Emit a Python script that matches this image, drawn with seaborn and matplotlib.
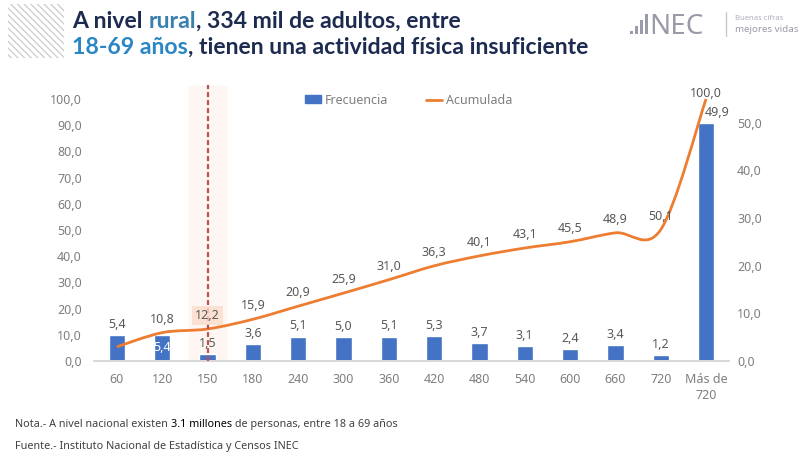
import matplotlib
matplotlib.use("Agg")
import matplotlib.pyplot as plt
import seaborn as sns
import pandas as pd
import numpy as np
from matplotlib.path import Path
from matplotlib.patches import PathPatch, Rectangle, Patch
from matplotlib.lines import Line2D

# ---------------- data ----------------
categories = ["60", "120", "150", "180", "240", "300", "360", "420", "480",
              "540", "600", "660", "720", "Más de\n720"]
frecuencia = [5.4, 5.4, 1.5, 3.6, 5.1, 5.0, 5.1, 5.3, 3.7, 3.1, 2.4, 3.4, 1.2, 49.9]
acumulada = [5.4, 10.8, 12.2, 15.9, 20.9, 25.9, 31.0, 36.3, 40.1, 43.1, 45.5,
             48.9, 50.1, 100.0]
left_ticks = [0, 10, 20, 30, 40, 50, 60, 70, 80, 90, 100]
right_ticks = [0, 10, 20, 30, 40, 50]
marked_category = "150"

sns.set_theme(style="white")
plt.rcParams['font.family'] = ['Noto Sans', 'DejaVu Sans']

W, H = 799, 454
fig = plt.figure(figsize=(W / 100, H / 100), dpi=100)
fig.patch.set_facecolor("white")


def fx(px):
    return px / W


def fy(py):
    return 1 - py / H


ax = fig.add_axes([0.118, 0.205, 0.794, 0.577])
ax2 = ax.twinx()

df = pd.DataFrame({"cat": categories, "frec": frecuencia, "acum": acumulada})

BLUE = "#4472C4"
ORANGE = "#ED7D31"
GRAY = "#7F7F7F"
LABEL = "#595959"
n = len(categories)

# faint highlight band behind the marked category (on the bar axis, behind bars)
mi = categories.index(marked_category)
ax2.axvspan(mi - 0.4, mi + 0.4, ymin=0, ymax=1.05, color="#FEF6F2",
            zorder=0, clip_on=False)

# bars on right axis
sns.barplot(data=df, x="cat", y="frec", ax=ax2, color=BLUE, width=0.36,
            saturation=1, zorder=2)
ax2.set_ylim(0, 55)
ax2.set_yticks(right_ticks)
ax2.set_yticklabels([f"{v:.1f}".replace(".", ",") for v in right_ticks])

# line on left axis, put in front
ax.set_zorder(ax2.get_zorder() + 1)
ax.patch.set_visible(False)
ax.set_xlim(-0.5, n - 0.5)
ax2.set_xlim(-0.5, n - 0.5)
ax.set_ylim(0, 100)
ax.set_yticks(left_ticks)
ax.set_yticklabels([f"{v:.1f}".replace(".", ",") for v in left_ticks])
ax.set_xticks(range(n))
ax.set_xticklabels(categories)

# smoothed cumulative line (Bezier through the data points)
pts = np.array([[i, v] for i, v in enumerate(acumulada)], dtype=float)
verts = [tuple(pts[0])]
codes = [Path.MOVETO]
for i in range(n - 1):
    pm = pts[i - 1] if i > 0 else pts[i]
    pp2 = pts[i + 2] if i + 2 < n else pts[i + 1]
    c1 = pts[i] + (pts[i + 1] - pm) / 6
    c2 = pts[i + 1] - (pp2 - pts[i]) / 6
    verts += [tuple(c1), tuple(c2), tuple(pts[i + 1])]
    codes += [Path.CURVE4] * 3
ax.add_patch(PathPatch(Path(verts, codes), fill=False, edgecolor=ORANGE,
                       lw=2, clip_on=False, zorder=3))

ax.axvline(mi, ymin=0, ymax=1.055, color="#C0504D", lw=1.6,
           linestyle=(0, (2.2, 1.4)), clip_on=False, zorder=4)


def fmt(v):
    return f"{v:.1f}".replace(".", ",")


for i, v in enumerate(acumulada):
    if i == 0:
        continue
    off = 5 if i < n - 1 else -1
    kw = {}
    if categories[i] == marked_category:
        kw = dict(bbox=dict(boxstyle="square,pad=0.25", fc="#FADCCB",
                            ec="none", alpha=0.8))
    ax.annotate(fmt(v), (i, v), xytext=(0, off), textcoords="offset points",
                ha="center", va="bottom", fontsize=9, color=LABEL,
                zorder=6, annotation_clip=False, **kw)

for i, v in enumerate(frecuencia):
    if i == 1:
        ax2.annotate(fmt(v), (i, v), xytext=(0, -9), textcoords="offset points",
                     ha="center", va="center", fontsize=9, color="white",
                     zorder=6)
        continue
    dx = 8 if i == n - 1 else 0
    ax2.annotate(fmt(v), (i, v), xytext=(dx, 3), textcoords="offset points",
                 ha="center", va="bottom", fontsize=9, color=LABEL, zorder=6,
                 annotation_clip=False)

# axes styling
for a in (ax, ax2):
    for s in ("left", "right", "top"):
        a.spines[s].set_visible(False)
    a.spines["bottom"].set_color("#D9D9D9")
    a.set_xlabel("")
    a.set_ylabel("")
    a.grid(False)
ax.tick_params(axis="y", length=0, pad=9, labelsize=9, labelcolor=GRAY)
ax2.tick_params(axis="y", length=0, pad=6, labelsize=9, labelcolor=GRAY)
ax.tick_params(axis="x", length=0, pad=9, labelsize=9, labelcolor=GRAY)
for t in ax.get_xticklabels():
    t.set_linespacing(1.25)

handles = [Patch(color=BLUE, label="Frecuencia"),
           Line2D([0], [0], color=ORANGE, lw=2, label="Acumulada")]
leg = ax.legend(handles=handles, loc="center", bbox_to_anchor=(0.495, 0.995),
                ncol=2, frameon=False, fontsize=9, handlelength=1.3,
                handleheight=0.6, columnspacing=3.0, handletextpad=0.3)
for t in leg.get_texts():
    t.set_color(GRAY)


# ---------------- title ----------------
def rainbow(x, y, parts, size, weight="bold"):
    t = fig.text(x, y, parts[0][0], color=parts[0][1], fontsize=size,
                 weight=weight, family=["Lato", "DejaVu Sans"], va="bottom")
    for s, c in parts[1:]:
        t = ax.annotate(s, xy=(1, 0), xycoords=t, va="bottom", ha="left",
                        color=c, fontsize=size, weight=weight,
                        family=["Lato", "DejaVu Sans"], annotation_clip=False)
    return t


NAVY = "#1C2B4F"
rainbow(fx(72), fy(32), [("A nivel ", NAVY), ("rural", "#3A80AE"),
                         (", 334 mil de adultos, entre", NAVY)], 16.6)
rainbow(fx(72), fy(58), [("18-69 años", "#2A86C4"),
                         (", tienen una actividad física insuficiente", NAVY)], 16.6)

# decorative stripes
fig.patches.append(Rectangle((fx(8), fy(58)), fx(56) - fx(0), fy(4) - fy(58),
                             transform=fig.transFigure, facecolor="none",
                             edgecolor="#D0D0D0", hatch="\\\\\\\\\\", lw=0))

# logo
LOGO = "#9A9BAA"
for xb, hb in zip([630, 635, 640, 645], [3, 8, 14, 20]):
    fig.patches.append(Rectangle((fx(xb), fy(34)), fx(3), hb / H,
                                 transform=fig.transFigure, color=LOGO, lw=0))
fig.text(fx(649), fy(34), "NEC", fontsize=20, color=LOGO, weight="light",
         va="baseline", ha="left")
fig.lines.append(Line2D([fx(726), fx(726)], [fy(12), fy(36)],
                        transform=fig.transFigure, color="#C8C8D0", lw=1))
fig.text(fx(735), fy(19), "Buenas cifras", fontsize=5.5, color="#B0B0BC",
         va="center", ha="left")
fig.text(fx(735), fy(30), "mejores vidas", fontsize=7, color=LOGO,
         va="center", ha="left")

# notes
NOTE = "#404040"
NS = 7.8
t = fig.text(fx(15), fy(430), "Nota.- A nivel nacional existen ", fontsize=NS,
             color=NOTE, va="bottom")
t = ax.annotate("3.1 millones", xy=(1, 0), xycoords=t, va="bottom", ha="left",
                fontsize=NS, color="black", weight="bold", annotation_clip=False)
ax.annotate(" de personas, entre 18 a 69 años", xy=(1, 0), xycoords=t,
            va="bottom", ha="left", fontsize=NS, color=NOTE,
            annotation_clip=False)
fig.text(fx(15), fy(452), "Fuente.- Instituto Nacional de Estadística y Censos INEC",
         fontsize=NS, color=NOTE, va="bottom")

fig.savefig("out.png", dpi=100, facecolor="white")
